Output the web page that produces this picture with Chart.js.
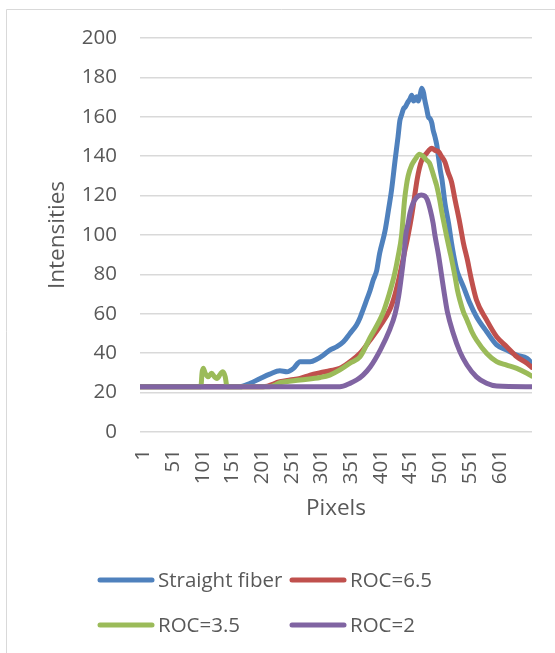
<!DOCTYPE html>
<html>
<head>
<meta charset="utf-8">
<script src="https://cdn.jsdelivr.net/npm/chart.js@4.4.1/dist/chart.umd.min.js"></script>
<style>
html,body{margin:0;padding:0;background:#fff;overflow:hidden}
#wrap{position:relative;width:555px;height:653px}
</style>
</head>
<body>
<div id="wrap"><canvas id="c" width="555" height="653"></canvas></div>
<script>
// ---- data ----
const seriesNames = ['Straight fiber', 'ROC=6.5', 'ROC=3.5', 'ROC=2'];

const straightX = [1,169,186,203,219,236,248,259,270,287,298,309,320,332,343,354,365,371,376,382,388,393,399,404,413,419,424,430,435,438,441,444,447,449,452,455,458,461,464,466,469,472,475,478,480,483,486,489,492,494,497,500,503,506,509,514,520,525,528,534,539,545,556,567,584,601,618,635,652,660];
const straightY = [23,23,24.7,27.2,29.4,31.1,30.6,32.3,35.7,35.7,36.9,39,41.6,43.3,45.8,50,54.3,58,62,67,72,77,82,90.7,102,113,122.8,138,150,158,161,164,165,166,167.7,169,171,168,169,170.2,168,171,174.5,172,168.5,164.3,160,159,156.7,153.3,150,146,139.7,133,128,116,106,96,90.7,82,78,73.8,65.3,58.5,51,44.2,41.6,39,37.4,34.9];

const roc65X = [1,208,236,253,270,287,304,320,337,354,371,388,404,421,430,438,445,452,458,463,467,471,475,479,483,487,492,497,503,509,514,519,525,531,535,539,545,552,558,567,584,601,618,635,652,660];
const roc65Y = [23,23,25.5,26.4,27.2,28.9,30.1,31.1,32.3,35.7,40,46.7,53.5,62,70,80,90,100,110,120,128,134,138,140,141.5,143,144,143,142.3,139.5,137,132,127,117.8,112,106,96,87,78,67,56.9,48.4,43.3,38.2,34.9,32.8];

const roc35X = [1,103,105,107,110,115,121,126,130,136,140,144,147,219,236,270,304,320,337,354,371,388,409,420,429,435,441,446,449,452,458,464,471,477,483,488,492,496,500,505,509,513,517,522,525,531,535,539,545,551,559,567,584,601,618,635,652,660];
const roc35Y = [23,23,30,32.3,30,28,29.8,28,27.2,29.5,30.6,28,23,23,25,26.4,27.7,28.9,31.5,34.9,38.2,48,60,70,80,89,100,118,125,130,135.5,138.5,141,140,138,136.5,133,129,125,118,111,105,99,92,88,78.8,72,67,61,56.9,51,46.7,40,35.7,34,32.3,29.8,28.4];

const roc2X = [1,337,354,365,376,388,405,421,430,436,441,445,448,452,455,460,466,474,480,484,489,494,497,503,508,513,518,528,539,551,567,584,601,660];
const roc2Y = [23,23,24.7,26.4,28.9,33,41.6,52,60,69,80,90,100,106,111,116,119,120.3,119.8,118,113,106,100,90,80,70,61,50,40.8,34,28,24.7,23.3,23];

const xTickLabels = [1,51,101,151,201,251,301,351,401,451,501,551,601];
const yTickLabels = [0,20,40,60,80,100,120,140,160,180,200];
const xCount = 660;

const colors = ['#4F81BD', '#C0504D', '#9BBB59', '#8064A2'];
const FONT = 'Open Sans';
const TXT = '#595959';

function pts(xs, ys) { return xs.map((x, i) => ({ x: x, y: ys[i] })); }

const seriesData = [pts(straightX, straightY), pts(roc65X, roc65Y), pts(roc35X, roc35Y), pts(roc2X, roc2Y)];

const framePlugin = {
  id: 'frameLegend',
  beforeDraw(chart) {
    const ctx = chart.ctx;
    ctx.save();
    ctx.fillStyle = '#fff';
    ctx.fillRect(0, 0, chart.width, chart.height);
    ctx.strokeStyle = '#d9d9d9';
    ctx.lineWidth = 1;
    ctx.beginPath();
    ctx.moveTo(6.5, chart.height + 2);
    ctx.lineTo(6.5, 9.5);
    ctx.lineTo(chart.width + 2, 9.5);
    ctx.stroke();
    ctx.restore();
  },
  afterDraw(chart) {
    const ctx = chart.ctx;
    const colX = [98, 290];
    const rowY = [580, 625];
    ctx.save();
    ctx.font = '20.5px "' + FONT + '"';
    ctx.textBaseline = 'middle';
    ctx.textAlign = 'left';
    chart.data.datasets.forEach((ds, i) => {
      const x = colX[i % 2], y = rowY[Math.floor(i / 2)];
      ctx.strokeStyle = ds.borderColor;
      ctx.lineWidth = 5;
      ctx.lineCap = 'round';
      ctx.beginPath();
      ctx.moveTo(x + 2, y);
      ctx.lineTo(x + 54, y);
      ctx.stroke();
      ctx.fillStyle = TXT;
      ctx.fillText(ds.label, x + 60, y + 1);
    });
    ctx.restore();
  }
};

new Chart(document.getElementById('c'), {
  type: 'line',
  data: {
    datasets: seriesNames.map((name, i) => ({
      label: name,
      data: seriesData[i],
      borderColor: colors[i],
      backgroundColor: colors[i],
      borderWidth: 5,
      pointRadius: 0,
      fill: false,
      cubicInterpolationMode: 'monotone',
      borderJoinStyle: 'round',
      borderCapStyle: 'round',
      order: 4 - i
    }))
  },
  options: {
    responsive: false,
    animation: false,
    devicePixelRatio: 1,
    layout: { padding: { left: 0, right: 23, top: 38, bottom: 121 } },
    plugins: { legend: { display: false }, tooltip: { enabled: false } },
    scales: {
      x: {
        type: 'linear',
        min: 0.5,
        max: xCount + 0.5,
        afterBuildTicks(s) { s.ticks = xTickLabels.map(v => ({ value: v })); },
        afterFit(s) { s.height = 100; },
        ticks: {
          autoSkip: false,
          minRotation: 90,
          maxRotation: 90,
          padding: 17,
          labelOffset: 3,
          color: TXT,
          font: { family: FONT, size: 20.5 },
          callback: (v) => String(v)
        },
        grid: { display: false, drawTicks: false },
        border: { display: false },
        title: {
          display: true,
          text: 'Pixels',
          color: TXT,
          font: { family: FONT, size: 22.5 },
          padding: { top: 0, bottom: 9.5 }
        }
      },
      y: {
        min: 0,
        max: 200,
        afterBuildTicks(s) { s.ticks = yTickLabels.map(v => ({ value: v })); },
        afterFit(s) { s.width = 140; },
        ticks: {
          padding: 23,
          color: TXT,
          font: { family: FONT, size: 20.5 }
        },
        grid: { color: '#d9d9d9', lineWidth: 1.5, drawTicks: false },
        border: { display: false },
        title: {
          display: true,
          text: 'Intensities',
          color: TXT,
          font: { family: FONT, size: 22.5 },
          padding: { top: 44.5, bottom: 0 }
        }
      }
    }
  },
  plugins: [framePlugin]
});
</script>
</body>
</html>
